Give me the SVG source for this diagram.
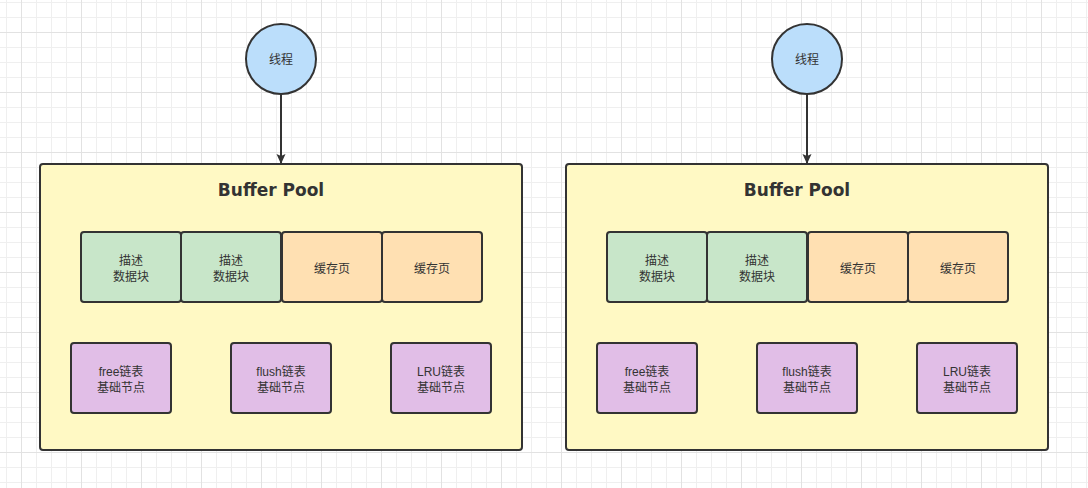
<svg xmlns="http://www.w3.org/2000/svg" width="1088" height="488" viewBox="0 0 1088 488">
<defs>
<pattern id="minor" width="15" height="15" patternUnits="userSpaceOnUse" x="6" y="2">
<path d="M0 0.5H15M0.5 0V15" fill="none" stroke="#efefef" stroke-width="1"/>
</pattern>
<pattern id="major" width="60" height="60" patternUnits="userSpaceOnUse" x="21" y="32">
<path d="M0 0.5H60M0.5 0V60" fill="none" stroke="#e2e2e2" stroke-width="1"/>
</pattern>
<marker id="arr" markerWidth="10" markerHeight="10" refX="9" refY="5" orient="auto" markerUnits="userSpaceOnUse">
<path d="M0 0.5L10 5L0 9.5L2 5Z" fill="#333"/>
</marker>
<style>
.pool{fill:#fff9c4;stroke:#333;stroke-width:2}
.circ{fill:#bbdefb;stroke:#333;stroke-width:2}
.g{fill:#c8e6c9;stroke:#333;stroke-width:2}
.o{fill:#ffe0b2;stroke:#333;stroke-width:2}
.p{fill:#e1bee7;stroke:#333;stroke-width:2}
.t{font-family:"Liberation Sans","Noto Sans CJK SC",sans-serif;font-size:12px;fill:#333;text-anchor:middle}
.h{font-family:"DejaVu Sans","Liberation Sans",sans-serif;font-size:17px;font-weight:bold;fill:#333;text-anchor:middle}
.c{stroke:#333;stroke-width:2;fill:none}
</style>
</defs>
<rect width="1088" height="488" fill="#fff"/>
<rect width="1088" height="488" fill="url(#minor)"/>
<rect width="1088" height="488" fill="url(#major)"/>

<g id="connectors">
<line class="c" x1="281" y1="94" x2="281" y2="163" marker-end="url(#arr)"/>
<line class="c" x1="807" y1="94" x2="807" y2="163" marker-end="url(#arr)"/>
</g>

<g id="pool1">
<rect class="pool" x="40" y="164" width="482" height="286" rx="3"/>
<text class="h" x="271" y="196">Buffer Pool</text>
</g>
<g id="thread1"><circle class="circ" cx="281" cy="59" r="35"/><text class="t" x="281" y="64">线程</text></g>
<g id="desc1a"><rect class="g" x="81" y="232" width="100" height="70" rx="3"/><text class="t" x="131" y="265">描述</text><text class="t" x="131" y="281">数据块</text></g>
<g id="desc1b"><rect class="g" x="181" y="232" width="100" height="70" rx="3"/><text class="t" x="231" y="265">描述</text><text class="t" x="231" y="281">数据块</text></g>
<g id="cache1a"><rect class="o" x="282" y="232" width="100" height="70" rx="3"/><text class="t" x="332" y="273">缓存页</text></g>
<g id="cache1b"><rect class="o" x="382" y="232" width="100" height="70" rx="3"/><text class="t" x="432" y="273">缓存页</text></g>
<g id="free1"><rect class="p" x="71" y="343" width="100" height="70" rx="3"/><text class="t" x="121" y="376">free链表</text><text class="t" x="121" y="392">基础节点</text></g>
<g id="flush1"><rect class="p" x="231" y="343" width="100" height="70" rx="3"/><text class="t" x="281" y="376">flush链表</text><text class="t" x="281" y="392">基础节点</text></g>
<g id="lru1"><rect class="p" x="391" y="343" width="100" height="70" rx="3"/><text class="t" x="441" y="376">LRU链表</text><text class="t" x="441" y="392">基础节点</text></g>

<g id="pool2">
<rect class="pool" x="566" y="164" width="482" height="286" rx="3"/>
<text class="h" x="797" y="196">Buffer Pool</text>
</g>
<g id="thread2"><circle class="circ" cx="807" cy="59" r="35"/><text class="t" x="807" y="64">线程</text></g>
<g id="desc2a"><rect class="g" x="607" y="232" width="100" height="70" rx="3"/><text class="t" x="657" y="265">描述</text><text class="t" x="657" y="281">数据块</text></g>
<g id="desc2b"><rect class="g" x="707" y="232" width="100" height="70" rx="3"/><text class="t" x="757" y="265">描述</text><text class="t" x="757" y="281">数据块</text></g>
<g id="cache2a"><rect class="o" x="808" y="232" width="100" height="70" rx="3"/><text class="t" x="858" y="273">缓存页</text></g>
<g id="cache2b"><rect class="o" x="908" y="232" width="100" height="70" rx="3"/><text class="t" x="958" y="273">缓存页</text></g>
<g id="free2"><rect class="p" x="597" y="343" width="100" height="70" rx="3"/><text class="t" x="647" y="376">free链表</text><text class="t" x="647" y="392">基础节点</text></g>
<g id="flush2"><rect class="p" x="757" y="343" width="100" height="70" rx="3"/><text class="t" x="807" y="376">flush链表</text><text class="t" x="807" y="392">基础节点</text></g>
<g id="lru2"><rect class="p" x="917" y="343" width="100" height="70" rx="3"/><text class="t" x="967" y="376">LRU链表</text><text class="t" x="967" y="392">基础节点</text></g>
</svg>
